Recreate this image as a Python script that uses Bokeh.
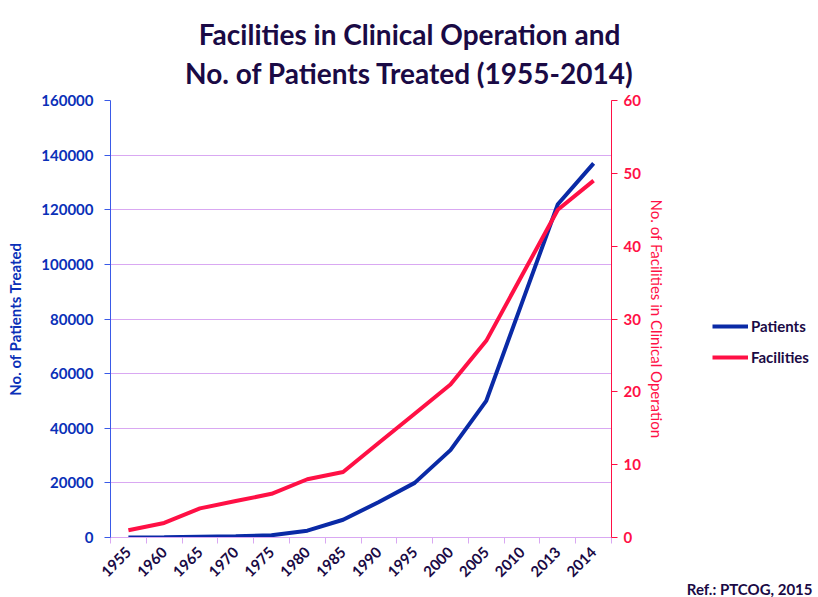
import math
from bokeh.plotting import figure
from bokeh.layouts import column, row
from bokeh.models import (Range1d, LinearAxis, FixedTicker, NumeralTickFormatter,
                          Legend, LegendItem, Label)
from bokeh.embed import file_html
from bokeh.resources import INLINE

years = ["1955", "1960", "1965", "1970", "1975", "1980", "1985", "1990",
         "1995", "2000", "2005", "2010", "2013", "2014"]
patients = [0, 100, 300, 500, 800, 2500, 6500, 13000, 20000, 32000, 50000, 86000, 122000, 137000]
facilities = [1, 2, 4, 5, 6, 8, 9, 13, 17, 21, 27, 36, 45, 49]
left_ticks = [0, 20000, 40000, 60000, 80000, 100000, 120000, 140000, 160000]
right_ticks = [0, 10, 20, 30, 40, 50, 60]
title_line1 = "Facilities in Clinical Operation and"
title_line2 = "No. of Patients Treated (1955-2014)"
ref_text = "Ref.: PTCOG, 2015"

FONT = "Lato"
BLUE_LINE = "#0a2aa6"
BLUE_TXT = "#0a30b8"
RED = "#ff1045"
NAVY = "#1a0a45"
GRID = "#d9a8f2"

n = len(years)
xs = [i + 0.5 for i in range(n)]

# ---------------- title strip ----------------
top = figure(width=818, height=90, output_backend="svg", toolbar_location=None,
             x_range=Range1d(0, 1), y_range=Range1d(0, 1), title=None,
             x_axis_type=None, y_axis_type=None, min_border=0)
top.outline_line_color = None
top.grid.visible = False
top_free = "frame_align" in top.properties()
if top_free:
    top.frame_align = False
    title_ys = (57, 18)
else:
    title_ys = (68, 29)
for txt, yb in zip((title_line1, title_line2), title_ys):
    top.add_layout(Label(x=409, y=yb, x_units="screen", y_units="screen", text=txt,
                         text_align="center", text_baseline="alphabetic",
                         text_font=FONT, text_font_style="bold",
                         text_font_size="28px", text_color=NAVY))

# ---------------- main chart ----------------
p = figure(width=668, height=507, output_backend="svg", toolbar_location=None,
           x_range=Range1d(0, n), y_range=Range1d(0, 160000), title=None,
           min_border_left=110, min_border_right=53, min_border_top=10,
           min_border_bottom=60)
p.outline_line_color = None
p.background_fill_color = "white"
p.border_fill_color = "white"
p.extra_y_ranges = {"fac": Range1d(0, 60)}

xa = p.xaxis[0]
xa.ticker = FixedTicker(ticks=xs, minor_ticks=list(range(n + 1)))
xa.major_label_overrides = {x: y for x, y in zip(xs, years)}
xa.major_tick_line_color = None
xa.minor_tick_line_color = GRID
xa.minor_tick_out = 6
xa.minor_tick_in = 0
xa.axis_line_color = GRID
xa.major_label_orientation = math.pi / 4
xa.major_label_text_font = FONT
xa.major_label_text_font_style = "bold"
xa.major_label_text_font_size = "15px"
xa.major_label_text_color = NAVY
xa.major_label_standoff = 6
p.xgrid.visible = False

ya = p.yaxis[0]
ya.ticker = FixedTicker(ticks=left_ticks)
ya.formatter = NumeralTickFormatter(format="0")
ya.axis_line_color = "#3a5ae8"
ya.major_tick_line_color = "#3a5ae8"
ya.major_tick_out = 6
ya.major_tick_in = 0
ya.minor_tick_line_color = None
ya.major_label_text_font = FONT
ya.major_label_text_font_style = "bold"
ya.major_label_text_font_size = "15px"
ya.major_label_text_color = BLUE_TXT
ya.major_label_standoff = 11
ya.axis_label = "No. of Patients Treated"
ya.axis_label_text_font = FONT
ya.axis_label_text_font_style = "bold"
ya.axis_label_text_font_size = "15px"
ya.axis_label_text_color = BLUE_TXT
ya.axis_label_standoff = 14
p.ygrid.grid_line_color = GRID
p.ygrid.grid_line_width = 1

ra = LinearAxis(y_range_name="fac", ticker=FixedTicker(ticks=right_ticks))
ra.axis_line_color = RED
ra.major_tick_line_color = RED
ra.major_tick_out = 6
ra.major_tick_in = 0
ra.minor_tick_line_color = None
ra.major_label_text_font = FONT
ra.major_label_text_font_style = "bold"
ra.major_label_text_font_size = "15px"
ra.major_label_text_color = RED
ra.major_label_standoff = 6
ra.axis_label = "No. of Facilities in Clinical Operation"
ra.axis_label_text_font = FONT
ra.axis_label_text_font_style = "normal"
ra.axis_label_text_font_size = "15px"
ra.axis_label_text_color = RED
ra.axis_label_standoff = 4
p.add_layout(ra, "right")

p.line(xs, patients, line_color=BLUE_LINE, line_width=4)
p.line(xs, facilities, line_color=RED, line_width=4, y_range_name="fac")

# ---------------- legend / reference strip ----------------
side = figure(width=150, height=507, output_backend="svg", toolbar_location=None,
              x_range=Range1d(0, 1), y_range=Range1d(0, 1), title=None,
              x_axis_type=None, y_axis_type=None, min_border=0)
side.outline_line_color = None
side.grid.visible = False
side_free = "frame_align" in side.properties()
if side_free:
    side.frame_align = False
    legend_y, ref_y = 230, 9
else:
    legend_y, ref_y = 171, -51

# legend-only renderers (a single point each, so nothing is drawn in the strip)
lp = side.line(x=xs[:1], y=patients[:1], line_color=BLUE_LINE, line_width=4)
lf = side.line(x=xs[:1], y=facilities[:1], line_color=RED, line_width=4)
legend = Legend(items=[LegendItem(label="Patients", renderers=[lp]),
                       LegendItem(label="Facilities", renderers=[lf])],
                location=(44, legend_y), background_fill_alpha=0, border_line_color=None,
                glyph_width=36, glyph_height=20, label_height=20, spacing=11,
                label_standoff=3, padding=0, margin=0,
                label_text_font=FONT, label_text_font_style="bold",
                label_text_font_size="15px", label_text_color=NAVY)
side.add_layout(legend)
side.add_layout(Label(x=144, y=ref_y, x_units="screen", y_units="screen", text=ref_text,
                      text_align="right", text_baseline="alphabetic",
                      text_font=FONT, text_font_style="bold",
                      text_font_size="15px", text_color=NAVY))

layout = column(top, row(p, side, spacing=0), spacing=0)
open("out.html", "w").write(file_html(layout, INLINE))
